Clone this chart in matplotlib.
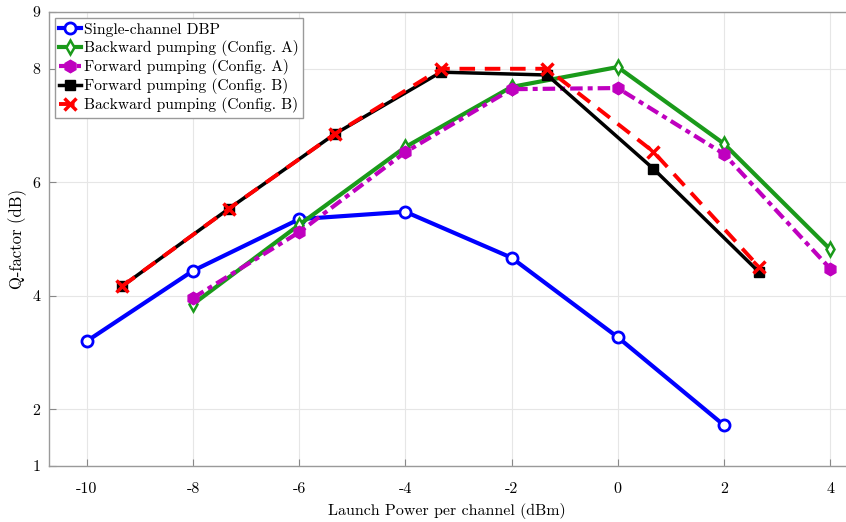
import matplotlib
matplotlib.use("Agg")
import matplotlib.pyplot as plt

plt.rcParams["font.family"] = "serif"
plt.rcParams["font.serif"] = ["cmr10", "DejaVu Serif"]
plt.rcParams["axes.formatter.use_mathtext"] = True

# Launch power grids (dBm)
p_a = [-10, -8, -6, -4, -2, 0, 2]
p_cfg_a = [-8, -6, -4, -2, 0, 2, 4]
p_cfg_b = [-9.33, -7.33, -5.33, -3.33, -1.33, 0.67, 2.67]

# Q-factor (dB)
q_dbp = [3.20, 4.44, 5.35, 5.48, 4.67, 3.27, 1.72]
q_bwd_a = [3.85, 5.25, 6.62, 7.68, 8.03, 6.68, 4.82]
q_fwd_a = [3.96, 5.12, 6.53, 7.64, 7.66, 6.50, 4.48]
q_fwd_b = [4.17, 5.53, 6.85, 7.94, 7.89, 6.24, 4.41]
q_bwd_b = [4.17, 5.53, 6.85, 8.00, 8.00, 6.54, 4.50]

labels = [
    "Single-channel DBP",
    "Backward pumping (Config. A)",
    "Forward pumping (Config. A)",
    "Forward pumping (Config. B)",
    "Backward pumping (Config. B)",
]

xticks = [-10, -8, -6, -4, -2, 0, 2, 4]
yticks = [1, 2, 4, 6, 8, 9]

fig = plt.figure(figsize=(8.46, 5.22), dpi=100)
ax = fig.add_axes([0.0574, 0.1073, 0.9426, 0.8697])

ax.plot(p_a, q_dbp, color="#0000ff", lw=3, marker="o", ms=8,
        mfc="white", mec="#0000ff", mew=2, label=labels[0])
ax.plot(p_cfg_a, q_bwd_a, color="#1a9a1a", lw=3, marker="d", ms=7,
        mfc="white", mec="#1a9a1a", mew=1.8, label=labels[1])
ax.plot(p_cfg_a, q_fwd_a, color="#bf00bf", lw=3, ls=(0, (3, 1.2, 1.2, 1.2)),
        marker="h", ms=9, mfc="#bf00bf", mec="#bf00bf", label=labels[2])
ax.plot(p_cfg_b, q_fwd_b, color="black", lw=2.5, marker="s", ms=7,
        mfc="black", mec="black", label=labels[3])
ax.plot(p_cfg_b, q_bwd_b, color="#ff0000", lw=2.8, ls=(0, (4, 2.5)),
        marker="x", ms=9, mew=2.5, mec="#ff0000", label=labels[4])

ax.set_xlim(-10.72, 4.3)
ax.set_ylim(1, 9)
ax.set_xticks(xticks)
ax.set_xticklabels([str(v).replace("\u2212", "-") for v in xticks])
ax.set_yticks(yticks)
ax.set_yticklabels([str(v) for v in yticks])
ax.grid(True, color="#e6e6e6", lw=0.8)
ax.tick_params(direction="in", length=5, color="#888888", labelsize=11.5)
ax.tick_params(axis="x", pad=12)
ax.tick_params(axis="y", pad=6)
for s in ax.spines.values():
    s.set_color("#9a9a9a")
    s.set_linewidth(1.0)
ax.spines["right"].set_visible(False)

ax.set_xlabel("Launch Power per channel (dBm)", fontsize=11.5, labelpad=5)
ax.set_ylabel("Q-factor (dB)", fontsize=12, labelpad=4)

leg = ax.legend(loc="upper left", fontsize=11.2, handlelength=1.4,
                handletextpad=0.15, labelspacing=0.2, borderpad=0.3,
                borderaxespad=0.4, fancybox=False, framealpha=1,
                edgecolor="#9a9a9a")
leg.get_frame().set_linewidth(1.0)

fig.savefig("out.png", dpi=100)
